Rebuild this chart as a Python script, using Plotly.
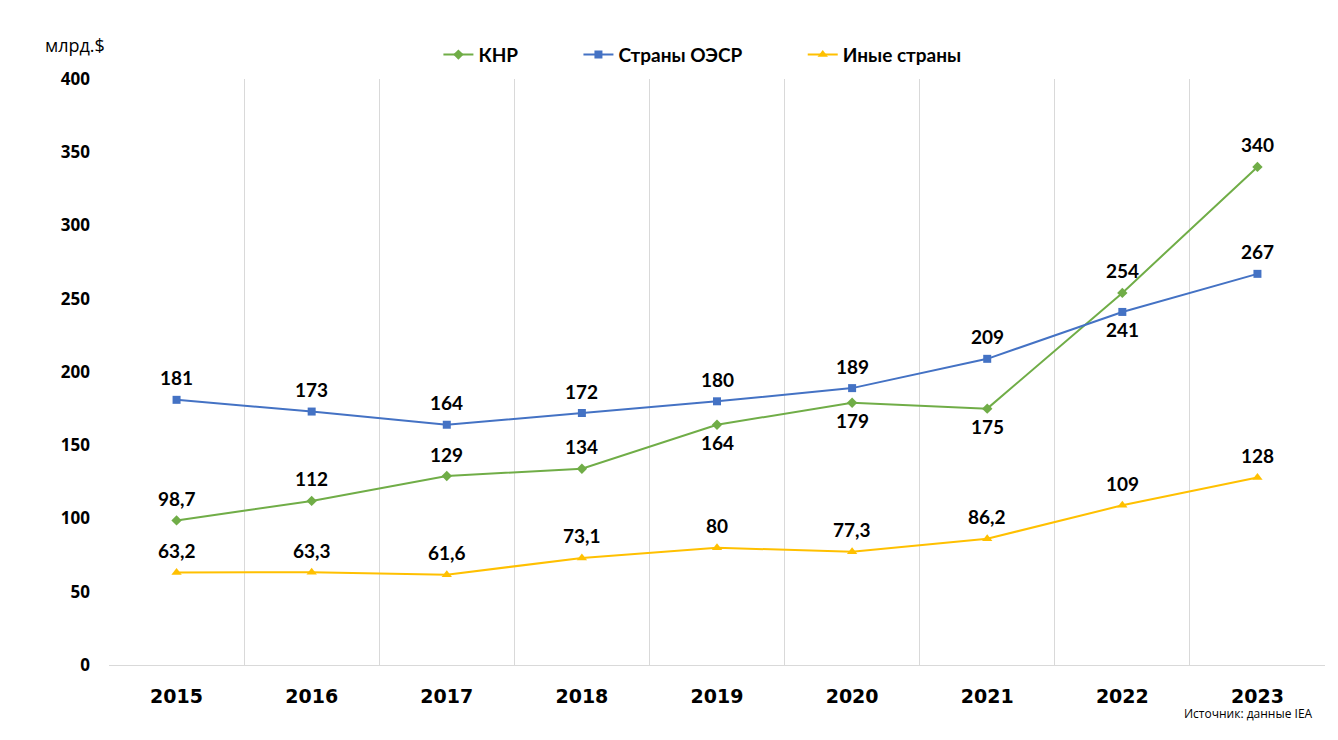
import plotly.graph_objects as go

years = ["2015", "2016", "2017", "2018", "2019", "2020", "2021", "2022", "2023"]
china = [98.7, 112, 129, 134, 164, 179, 175, 254, 340]
oecd = [181, 173, 164, 172, 180, 189, 209, 241, 267]
other = [63.2, 63.3, 61.6, 73.1, 80, 77.3, 86.2, 109, 128]

# label side: 1 above, -1 below
china_side = [1, 1, 1, 1, -1, -1, -1, 1, 1]
oecd_side = [1, 1, 1, 1, 1, 1, 1, -1, 1]
other_side = [1] * 9

def fmt(v):
    return ("%g" % v).replace(".", ",")

NBSP = "\u00a0"
fig = go.Figure()
series = [
    ("КНР" + NBSP * 12, china, china_side, "#70AD47", "diamond", 8),
    ("Страны ОЭСР" + NBSP * 12, oecd, oecd_side, "#4472C4", "square", 8),
    ("Иные страны", other, other_side, "#FFC000", "triangle-up", 9),
]
annotations = []
for name, vals, sides, col, sym, ms in series:
    fig.add_trace(go.Scatter(
        x=years, y=vals, name=name, mode="lines+markers",
        line=dict(color=col, width=2),
        marker=dict(symbol=sym, size=ms, color=col),
    ))
    for i, (v, s) in enumerate(zip(vals, sides)):
        annotations.append(dict(
            x=i, y=v, xref="x", yref="y", text="<b>" + fmt(v) + "</b>", showarrow=False,
            xanchor="center", yanchor="middle", yshift=22 if s > 0 else -18,
            font=dict(family="Lato, Open Sans, sans-serif", size=19, color="#000"),
        ))

annotations += [
    dict(text="млрд.$", xref="paper", yref="paper", x=-0.028, y=1.058, xanchor="center",
         yanchor="middle", showarrow=False,
         font=dict(family="Open Sans", size=18, color="#000")),
    dict(text="Источник: данные IEA", xref="paper", yref="paper", x=0.992, y=-0.082,
         xanchor="right", yanchor="middle", showarrow=False,
         font=dict(family="Open Sans", size=12, color="#000")),
]

fig.update_layout(
    width=1338, height=740,
    margin=dict(l=101, r=21, t=71, b=83, autoexpand=False),
    paper_bgcolor="white", plot_bgcolor="white",
    showlegend=True,
    legend=dict(orientation="h", x=0.488, xanchor="center", y=1.009, yanchor="bottom",
                font=dict(family="Lato, Open Sans, sans-serif", size=19, color="#000", weight="bold"),
                itemwidth=30, traceorder="normal"),
    xaxis=dict(type="category", range=[-0.5, 8.5], showgrid=True, gridcolor="#D9D9D9",
               tickson="boundaries", ticks="", showline=True, linecolor="#D9D9D9",
               automargin=False,
               tickfont=dict(family="DejaVu Sans", size=19, color="#000", weight="bold"),
               ticklabelstandoff=14),
    yaxis=dict(range=[0, 400], dtick=50, showgrid=False, zeroline=False, showline=False,
               ticks="", automargin=False,
               tickfont=dict(family="Open Sans", size=17, color="#000", weight="bold"),
               ticklabelstandoff=18),
    annotations=annotations,
)

fig.write_html("out.html")
